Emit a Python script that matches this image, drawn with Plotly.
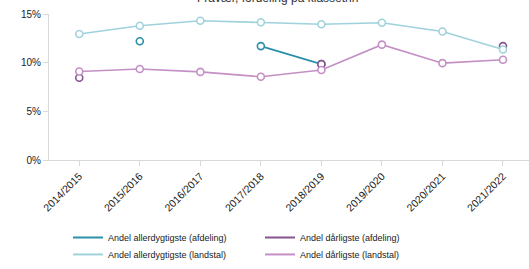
import plotly.graph_objects as go

categories = ["2014/2015", "2015/2016", "2016/2017", "2017/2018",
              "2018/2019", "2019/2020", "2020/2021", "2021/2022"]

allerdygtigste_afdeling = [None, 12.2, None, 11.7, 9.85, None, None, None]
daarligste_afdeling = [8.45, None, None, None, 9.85, None, None, 11.7]
allerdygtigste_landstal = [12.95, 13.8, 14.3, 14.15, 13.95, 14.1, 13.2, 11.35]
daarligste_landstal = [9.1, 9.35, 9.05, 8.55, 9.25, 11.85, 9.95, 10.3]

y_ticks = [0, 5, 10, 15]
y_tick_labels = ["0%", "5%", "10%", "15%"]

series = [
    ("Andel allerdygtigste (afdeling)", allerdygtigste_afdeling, "#2a90a8", "legend"),
    ("Andel dårligste (afdeling)", daarligste_afdeling, "#84548f", "legend"),
    ("Andel allerdygtigste (landstal)", allerdygtigste_landstal, "#9fd2dc", "legend2"),
    ("Andel dårligste (landstal)", daarligste_landstal, "#c48fc4", "legend2"),
]

fig = go.Figure()
for name, vals, color, lg in series:
    fig.add_trace(go.Scatter(
        x=categories, y=vals, name=name, mode="lines+markers",
        line=dict(color=color, width=1.6),
        marker=dict(symbol="circle", size=7, color="white",
                    line=dict(color=color, width=1.6)),
        connectgaps=False, showlegend=False, legendgroup=name,
    ))
# legend entries showing only a line swatch
for name, vals, color, lg in series:
    fig.add_trace(go.Scatter(
        x=[None], y=[None], name=name, mode="lines",
        line=dict(color=color, width=2), legendgroup=name, showlegend=True,
        legend=lg,
    ))

fig.add_annotation(
    text="Fravær, fordeling på klassetrin", xref="paper", yref="paper",
    x=0.475, y=1.112, xanchor="center", yanchor="middle", showarrow=False,
    font=dict(family="Liberation Sans, Arial", size=12, color="#333333"),
)

legend_common = dict(
    orientation="h", xref="container", yref="container",
    x=0.1285, xanchor="left", yanchor="top",
    entrywidth=147, entrywidthmode="pixels",
    font=dict(size=9, color="#1a1a1a"),
    itemwidth=30, tracegroupgap=0, bgcolor="rgba(0,0,0,0)",
)

fig.update_layout(
    width=529, height=269,
    margin=dict(l=49, r=0, t=14, b=109, autoexpand=False),
    paper_bgcolor="white", plot_bgcolor="white",
    font=dict(family="Liberation Sans, Arial", size=9, color="#222222"),
    showlegend=True,
    legend=dict(legend_common, y=0.171),
    legend2=dict(legend_common, y=0.108),
    xaxis=dict(
        type="category", range=[-0.5, 7.43],
        showline=True, linecolor="#d9d9d9", linewidth=1,
        ticks="outside", tickcolor="#d9d9d9", ticklen=5,
        tickangle=-45, showgrid=False, zeroline=False,
        tickfont=dict(size=10.5, color="#1a1a1a"),
    ),
    yaxis=dict(
        range=[0, 15], tickvals=y_ticks, ticktext=y_tick_labels,
        showline=True, linecolor="#d9d9d9", linewidth=1,
        ticks="outside", tickcolor="#d9d9d9", ticklen=5,
        showgrid=False, zeroline=False,
        tickfont=dict(size=10, color="#1a1a1a"),
    ),
)

fig.write_html(
    "out.html",
    config={"displayModeBar": False},
    post_script="document.body.style.margin='0';document.body.style.overflow='hidden';",
)
